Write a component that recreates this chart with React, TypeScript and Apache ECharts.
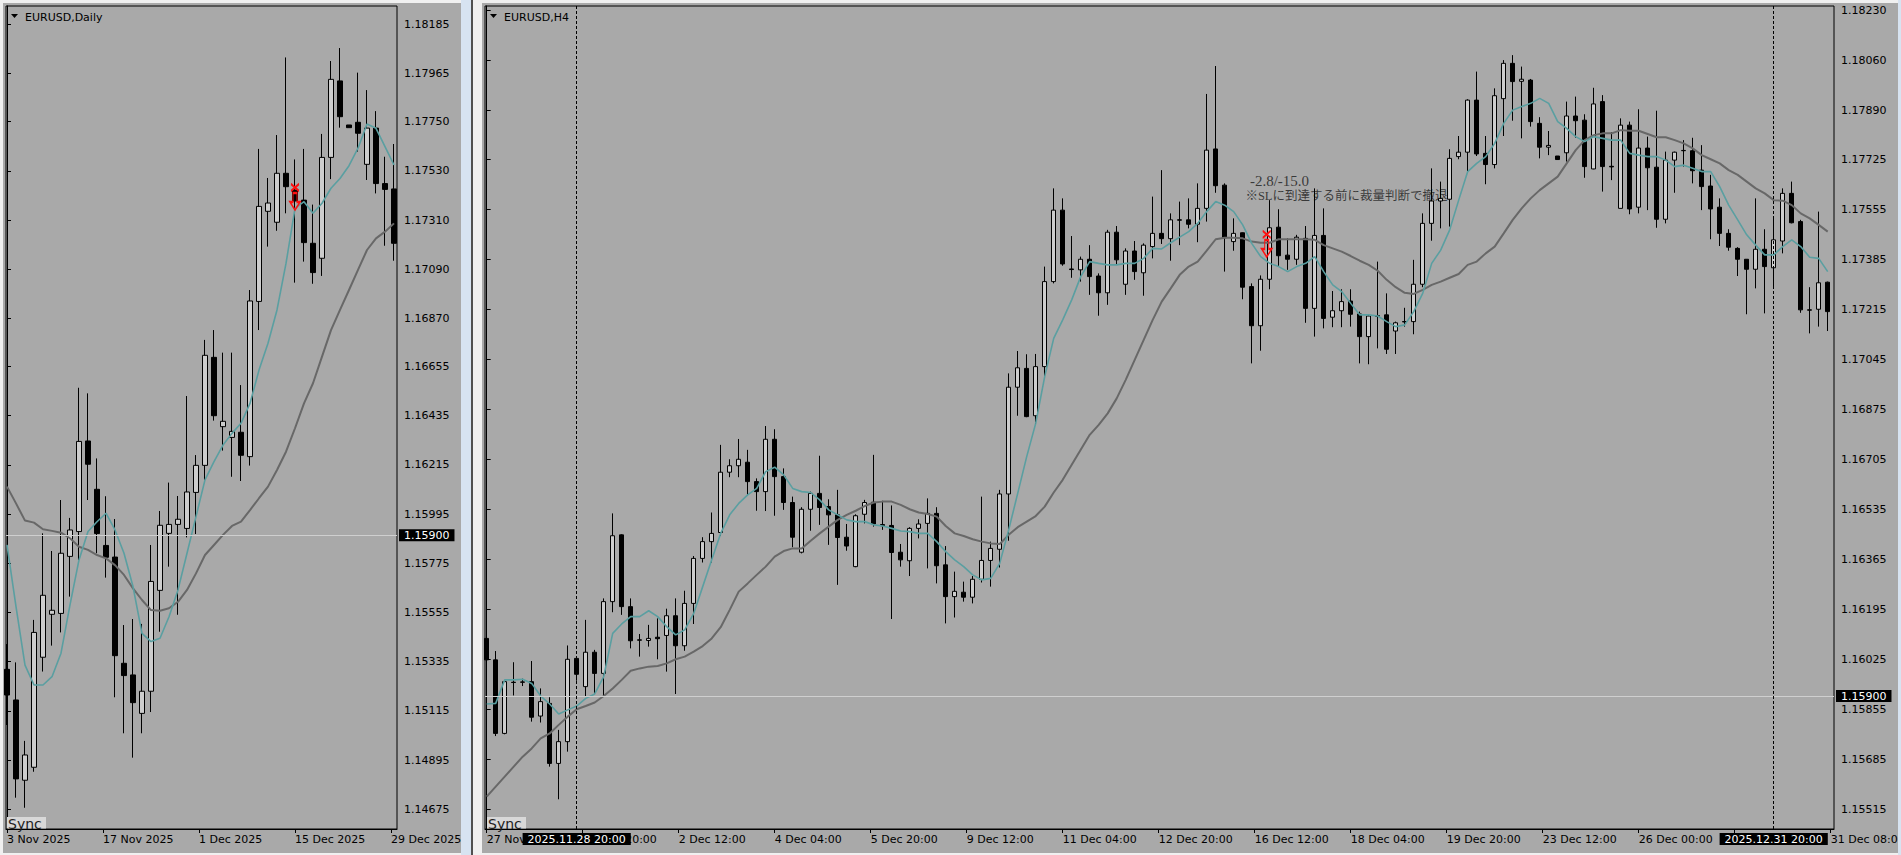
import React, { useEffect, useRef } from "react";
import * as echarts from "echarts";

// ---------- DATA ----------
// Daily candles, rows of [open, high, low, close]
const dailyCandles: number[][] = [
  [1.15301, 1.15414, 1.15052, 1.15186], [1.15164, 1.15332, 1.14727, 1.14811], [1.14805, 1.14981, 1.14682, 1.14918],
  [1.14863, 1.15522, 1.14843, 1.15466], [1.15355, 1.15909, 1.15291, 1.15632], [1.15547, 1.15830, 1.15407, 1.15565],
  [1.15551, 1.16058, 1.15466, 1.15820], [1.15806, 1.15978, 1.15626, 1.15924], [1.15917, 1.16560, 1.15790, 1.16320],
  [1.16322, 1.16535, 1.16058, 1.16218], [1.16106, 1.16244, 1.15820, 1.15908], [1.15855, 1.16075, 1.15711, 1.15802],
  [1.15803, 1.15973, 1.15176, 1.15362], [1.15328, 1.15499, 1.15015, 1.15273], [1.15276, 1.15526, 1.14906, 1.15152],
  [1.15104, 1.15504, 1.15015, 1.15203], [1.15203, 1.15857, 1.15110, 1.15694], [1.15654, 1.16009, 1.15469, 1.15945],
  [1.15909, 1.16136, 1.15760, 1.15949], [1.15949, 1.16076, 1.15545, 1.15972], [1.15931, 1.16523, 1.15891, 1.16094],
  [1.16092, 1.16259, 1.15906, 1.16213], [1.16213, 1.16774, 1.16148, 1.16705], [1.16696, 1.16818, 1.16413, 1.16435],
  [1.16386, 1.16717, 1.16279, 1.16410], [1.16338, 1.16717, 1.16162, 1.16365], [1.16361, 1.16572, 1.16143, 1.16258],
  [1.16252, 1.16997, 1.16212, 1.16948], [1.16946, 1.17628, 1.16818, 1.17371], [1.17349, 1.17498, 1.17191, 1.17386],
  [1.17300, 1.17690, 1.17262, 1.17519], [1.17519, 1.18037, 1.17340, 1.17459], [1.17444, 1.17581, 1.17030, 1.17395],
  [1.17399, 1.17628, 1.17124, 1.17209], [1.17206, 1.17379, 1.17025, 1.17075], [1.17139, 1.17695, 1.17060, 1.17590],
  [1.17590, 1.18021, 1.17493, 1.17939], [1.17932, 1.18079, 1.17723, 1.17772], [1.17735, 1.17735, 1.17723, 1.17723],
  [1.17747, 1.17969, 1.17616, 1.17698], [1.17559, 1.17891, 1.17489, 1.17721], [1.17721, 1.17797, 1.17429, 1.17473],
  [1.17473, 1.17593, 1.17195, 1.17447], [1.17449, 1.17650, 1.17128, 1.17206],
];

const dailyFastMA: number[] = [
  1.15857, 1.15581, 1.15320, 1.15231, 1.15231, 1.15268, 1.15373, 1.15589, 1.15790, 1.15917,
  1.15961, 1.15999, 1.15924, 1.15820, 1.15671, 1.15462, 1.15425, 1.15440, 1.15536, 1.15656,
  1.15820, 1.15984, 1.16148, 1.16230, 1.16304, 1.16356, 1.16401, 1.16490, 1.16639, 1.16759,
  1.16908, 1.17116, 1.17362, 1.17392, 1.17340, 1.17385, 1.17452, 1.17496, 1.17553, 1.17631,
  1.17739, 1.17720, 1.17638, 1.17556,
];

const dailySlowMA: number[] = [
  1.16118, 1.16043, 1.15966, 1.15957, 1.15927, 1.15920, 1.15912, 1.15887, 1.15849, 1.15835,
  1.15812, 1.15797, 1.15767, 1.15723, 1.15663, 1.15611, 1.15566, 1.15563, 1.15574, 1.15603,
  1.15656, 1.15730, 1.15812, 1.15857, 1.15902, 1.15942, 1.15961, 1.16013, 1.16066, 1.16118,
  1.16192, 1.16274, 1.16379, 1.16490, 1.16580, 1.16699, 1.16818, 1.16908, 1.16997, 1.17087,
  1.17176, 1.17228, 1.17258, 1.17295,
];

// H4 candles, rows of [open, high, low, close]
const h4Candles: number[][] = [
  [1.16096, 1.16134, 1.15998, 1.16023], [1.16023, 1.16053, 1.15764, 1.15773], [1.15773, 1.15952, 1.15770, 1.15949],
  [1.15947, 1.16015, 1.15902, 1.15946], [1.15948, 1.15959, 1.15934, 1.15947], [1.15949, 1.16019, 1.15813, 1.15828],
  [1.15832, 1.15926, 1.15810, 1.15881], [1.15875, 1.15896, 1.15660, 1.15671], [1.15671, 1.15785, 1.15549, 1.15745],
  [1.15745, 1.16072, 1.15711, 1.16025], [1.16028, 1.16032, 1.15952, 1.15974], [1.15932, 1.16159, 1.15900, 1.16049],
  [1.16049, 1.16057, 1.15907, 1.15977], [1.15977, 1.16232, 1.15900, 1.16221], [1.16221, 1.16521, 1.16185, 1.16445],
  [1.16448, 1.16450, 1.16176, 1.16204], [1.16204, 1.16232, 1.16062, 1.16088], [1.16091, 1.16111, 1.16034, 1.16090],
  [1.16089, 1.16142, 1.16068, 1.16096], [1.16100, 1.16164, 1.16025, 1.16095], [1.16106, 1.16197, 1.15983, 1.16173],
  [1.16173, 1.16232, 1.15907, 1.16071], [1.16071, 1.16258, 1.16054, 1.16215], [1.16215, 1.16376, 1.16145, 1.16368],
  [1.16368, 1.16440, 1.16354, 1.16425], [1.16425, 1.16524, 1.16354, 1.16453], [1.16456, 1.16754, 1.16444, 1.16661],
  [1.16661, 1.16705, 1.16644, 1.16683], [1.16683, 1.16774, 1.16644, 1.16705], [1.16695, 1.16737, 1.16584, 1.16629],
  [1.16629, 1.16640, 1.16530, 1.16595], [1.16595, 1.16818, 1.16529, 1.16773], [1.16773, 1.16807, 1.16513, 1.16646],
  [1.16646, 1.16674, 1.16533, 1.16558], [1.16558, 1.16578, 1.16406, 1.16440], [1.16389, 1.16542, 1.16385, 1.16535],
  [1.16535, 1.16595, 1.16462, 1.16589], [1.16589, 1.16717, 1.16482, 1.16541], [1.16544, 1.16569, 1.16414, 1.16516],
  [1.16516, 1.16601, 1.16278, 1.16439], [1.16440, 1.16485, 1.16394, 1.16410], [1.16340, 1.16518, 1.16338, 1.16513],
  [1.16518, 1.16567, 1.16487, 1.16558], [1.16559, 1.16720, 1.16476, 1.16485], [1.16483, 1.16564, 1.16465, 1.16479],
  [1.16480, 1.16548, 1.16162, 1.16388], [1.16389, 1.16417, 1.16340, 1.16363], [1.16360, 1.16474, 1.16308, 1.16470],
  [1.16470, 1.16501, 1.16436, 1.16485], [1.16487, 1.16572, 1.16334, 1.16521], [1.16521, 1.16542, 1.16283, 1.16343],
  [1.16346, 1.16410, 1.16147, 1.16238], [1.16238, 1.16323, 1.16167, 1.16256], [1.16253, 1.16289, 1.16221, 1.16236],
  [1.16236, 1.16308, 1.16215, 1.16297], [1.16297, 1.16578, 1.16286, 1.16361], [1.16361, 1.16425, 1.16272, 1.16402],
  [1.16399, 1.16601, 1.16337, 1.16587], [1.16587, 1.16997, 1.16428, 1.16950], [1.16950, 1.17073, 1.16853, 1.17016],
  [1.17014, 1.17062, 1.16848, 1.16850], [1.16853, 1.17063, 1.16822, 1.17020], [1.17020, 1.17360, 1.16986, 1.17309],
  [1.17309, 1.17626, 1.17303, 1.17552], [1.17552, 1.17592, 1.17363, 1.17369], [1.17352, 1.17464, 1.17322, 1.17350],
  [1.17349, 1.17394, 1.17309, 1.17385], [1.17385, 1.17433, 1.17264, 1.17326], [1.17328, 1.17337, 1.17193, 1.17271],
  [1.17271, 1.17485, 1.17230, 1.17477], [1.17477, 1.17498, 1.17366, 1.17383], [1.17300, 1.17422, 1.17264, 1.17413],
  [1.17413, 1.17447, 1.17315, 1.17343], [1.17339, 1.17439, 1.17261, 1.17433], [1.17428, 1.17598, 1.17388, 1.17473],
  [1.17473, 1.17688, 1.17437, 1.17455], [1.17455, 1.17541, 1.17380, 1.17519], [1.17519, 1.17581, 1.17433, 1.17518],
  [1.17519, 1.17592, 1.17490, 1.17504], [1.17504, 1.17643, 1.17443, 1.17558], [1.17558, 1.17947, 1.17513, 1.17756],
  [1.17760, 1.18042, 1.17611, 1.17635], [1.17637, 1.17643, 1.17343, 1.17458], [1.17445, 1.17524, 1.17414, 1.17473],
  [1.17475, 1.17476, 1.17249, 1.17290], [1.17292, 1.17303, 1.17031, 1.17159], [1.17159, 1.17330, 1.17074, 1.17317],
  [1.17317, 1.17586, 1.17283, 1.17492], [1.17494, 1.17555, 1.17360, 1.17397], [1.17399, 1.17456, 1.17349, 1.17385],
  [1.17385, 1.17468, 1.17366, 1.17460], [1.17456, 1.17498, 1.17169, 1.17218], [1.17218, 1.17626, 1.17122, 1.17466],
  [1.17466, 1.17558, 1.17150, 1.17184], [1.17188, 1.17277, 1.17154, 1.17210], [1.17210, 1.17283, 1.17154, 1.17241],
  [1.17243, 1.17283, 1.17156, 1.17198], [1.17199, 1.17207, 1.17031, 1.17122], [1.17122, 1.17195, 1.17028, 1.17192],
  [1.17193, 1.17377, 1.17082, 1.17191], [1.17196, 1.17269, 1.17063, 1.17079], [1.17141, 1.17173, 1.17063, 1.17169],
  [1.17173, 1.17220, 1.17156, 1.17172], [1.17173, 1.17383, 1.17130, 1.17300], [1.17300, 1.17541, 1.17290, 1.17507],
  [1.17507, 1.17694, 1.17448, 1.17583], [1.17583, 1.17649, 1.17490, 1.17592], [1.17589, 1.17759, 1.17496, 1.17728],
  [1.17734, 1.17804, 1.17725, 1.17749], [1.17749, 1.17929, 1.17683, 1.17926], [1.17926, 1.18023, 1.17736, 1.17743],
  [1.17745, 1.17804, 1.17640, 1.17707], [1.17707, 1.17966, 1.17694, 1.17941], [1.17931, 1.18062, 1.17804, 1.18051],
  [1.18051, 1.18079, 1.17856, 1.17989], [1.17990, 1.18040, 1.17796, 1.17997], [1.17994, 1.17998, 1.17836, 1.17853],
  [1.17847, 1.17868, 1.17728, 1.17766], [1.17766, 1.17821, 1.17739, 1.17772], [1.17736, 1.17736, 1.17724, 1.17724],
  [1.17747, 1.17921, 1.17717, 1.17872], [1.17872, 1.17938, 1.17798, 1.17856], [1.17858, 1.17878, 1.17662, 1.17700],
  [1.17692, 1.17968, 1.17691, 1.17913], [1.17921, 1.17943, 1.17615, 1.17700], [1.17701, 1.17817, 1.17654, 1.17699],
  [1.17558, 1.17864, 1.17558, 1.17841], [1.17841, 1.17853, 1.17538, 1.17556], [1.17562, 1.17895, 1.17541, 1.17763],
  [1.17763, 1.17802, 1.17552, 1.17696], [1.17698, 1.17890, 1.17492, 1.17521], [1.17521, 1.17751, 1.17507, 1.17722],
  [1.17722, 1.17751, 1.17611, 1.17749], [1.17754, 1.17790, 1.17700, 1.17755], [1.17754, 1.17798, 1.17643, 1.17686],
  [1.17688, 1.17773, 1.17552, 1.17632], [1.17634, 1.17672, 1.17453, 1.17556], [1.17562, 1.17592, 1.17430, 1.17473],
  [1.17473, 1.17487, 1.17414, 1.17426], [1.17422, 1.17426, 1.17328, 1.17385], [1.17385, 1.17385, 1.17198, 1.17351],
  [1.17351, 1.17592, 1.17286, 1.17419], [1.17419, 1.17487, 1.17201, 1.17360], [1.17356, 1.17524, 1.17294, 1.17451],
  [1.17447, 1.17626, 1.17405, 1.17609], [1.17609, 1.17649, 1.17507, 1.17509], [1.17513, 1.17519, 1.17203, 1.17213],
  [1.17213, 1.17290, 1.17133, 1.17212], [1.17215, 1.17547, 1.17156, 1.17305], [1.17307, 1.17309, 1.17141, 1.17207],
];

const h4FastMA: number[] = [
  1.15873, 1.15875, 1.15955, 1.15955, 1.15957, 1.15943, 1.15900, 1.15873, 1.15839, 1.15853,
  1.15866, 1.15892, 1.15907, 1.15966, 1.16113, 1.16145, 1.16170, 1.16170, 1.16190, 1.16170,
  1.16136, 1.16108, 1.16125, 1.16181, 1.16272, 1.16363, 1.16453, 1.16516, 1.16555, 1.16584,
  1.16606, 1.16663, 1.16678, 1.16652, 1.16606, 1.16595, 1.16592, 1.16567, 1.16533, 1.16516,
  1.16499, 1.16493, 1.16493, 1.16482, 1.16478, 1.16470, 1.16461, 1.16459, 1.16453, 1.16453,
  1.16425, 1.16391, 1.16363, 1.16340, 1.16312, 1.16295, 1.16300, 1.16351, 1.16465, 1.16589,
  1.16714, 1.16827, 1.16986, 1.17116, 1.17179, 1.17247, 1.17326, 1.17377, 1.17371, 1.17366,
  1.17366, 1.17371, 1.17371, 1.17388, 1.17422, 1.17420, 1.17441, 1.17460, 1.17479, 1.17507,
  1.17547, 1.17581, 1.17569, 1.17547, 1.17502, 1.17439, 1.17394, 1.17371, 1.17360, 1.17343,
  1.17360, 1.17371, 1.17394, 1.17343, 1.17298, 1.17275, 1.17235, 1.17196, 1.17196, 1.17192,
  1.17173, 1.17156, 1.17162, 1.17207, 1.17269, 1.17371, 1.17416, 1.17485, 1.17586, 1.17683,
  1.17711, 1.17734, 1.17779, 1.17847, 1.17892, 1.17904, 1.17915, 1.17932, 1.17915, 1.17853,
  1.17830, 1.17802, 1.17785, 1.17802, 1.17796, 1.17790, 1.17790, 1.17745, 1.17739, 1.17734,
  1.17734, 1.17722, 1.17700, 1.17705, 1.17694, 1.17683, 1.17683, 1.17632, 1.17569, 1.17519,
  1.17468, 1.17433, 1.17400, 1.17400, 1.17428, 1.17451, 1.17428, 1.17392, 1.17388, 1.17343,
];

const h4SlowMA: number[] = [
  1.15558, 1.15592, 1.15626, 1.15660, 1.15694, 1.15722, 1.15756, 1.15773, 1.15802, 1.15830,
  1.15855, 1.15866, 1.15878, 1.15900, 1.15926, 1.15955, 1.15986, 1.15994, 1.16000, 1.16002,
  1.16011, 1.16025, 1.16034, 1.16051, 1.16070, 1.16096, 1.16134, 1.16193, 1.16255, 1.16283,
  1.16312, 1.16340, 1.16374, 1.16393, 1.16402, 1.16402, 1.16428, 1.16453, 1.16476, 1.16499,
  1.16516, 1.16530, 1.16546, 1.16558, 1.16561, 1.16561, 1.16550, 1.16535, 1.16524, 1.16519,
  1.16510, 1.16478, 1.16453, 1.16444, 1.16433, 1.16425, 1.16419, 1.16417, 1.16448, 1.16474,
  1.16493, 1.16512, 1.16544, 1.16592, 1.16635, 1.16686, 1.16737, 1.16788, 1.16822, 1.16861,
  1.16912, 1.16975, 1.17043, 1.17111, 1.17179, 1.17241, 1.17286, 1.17332, 1.17360, 1.17377,
  1.17414, 1.17453, 1.17458, 1.17458, 1.17456, 1.17445, 1.17441, 1.17441, 1.17453, 1.17453,
  1.17453, 1.17453, 1.17451, 1.17433, 1.17422, 1.17411, 1.17396, 1.17380, 1.17366, 1.17346,
  1.17315, 1.17290, 1.17271, 1.17267, 1.17281, 1.17298, 1.17309, 1.17322, 1.17335, 1.17366,
  1.17377, 1.17405, 1.17428, 1.17473, 1.17519, 1.17558, 1.17592, 1.17620, 1.17643, 1.17666,
  1.17711, 1.17756, 1.17790, 1.17807, 1.17813, 1.17813, 1.17824, 1.17822, 1.17822, 1.17811,
  1.17800, 1.17800, 1.17790, 1.17779, 1.17762, 1.17739, 1.17725, 1.17711, 1.17688, 1.17672,
  1.17649, 1.17626, 1.17609, 1.17586, 1.17584, 1.17569, 1.17541, 1.17524, 1.17502, 1.17479,
];

const dailyTimeLabels = ["3 Nov 2025", "17 Nov 2025", "1 Dec 2025", "15 Dec 2025", "29 Dec 2025"];
const h4TimeLabels = [
  "27 Nov 04:00", "28 Nov 20:00", "2 Dec 12:00", "4 Dec 04:00", "5 Dec 20:00", "9 Dec 12:00",
  "11 Dec 04:00", "12 Dec 20:00", "16 Dec 12:00", "18 Dec 04:00", "19 Dec 20:00", "23 Dec 12:00",
  "26 Dec 00:00", "29 Dec 16:00", "31 Dec 08:00",
];
const dailyPriceTicks = [
  1.18185, 1.17965, 1.1775, 1.1753, 1.1731, 1.1709, 1.1687, 1.16655, 1.16435,
  1.16215, 1.15995, 1.15775, 1.15555, 1.15335, 1.15115, 1.14895, 1.14675,
];
const h4PriceTicks = [
  1.1823, 1.1806, 1.1789, 1.17725, 1.17555, 1.17385, 1.17215, 1.17045, 1.16875,
  1.16705, 1.16535, 1.16365, 1.16195, 1.16025, 1.15855, 1.15685, 1.15515,
];
const referencePrice = 1.159;
const h4VerticalLines = [
  { bar: 10, label: "2025.11.28 20:00" },
  { bar: 143, label: "2025.12.31 20:00" },
];
const dailyTrade = { bar: 32, price: 1.17413 };
const h4Trade = { bar: 87, price: 1.17437 };
const h4Notes = [
  { bar: 84.8, price: 1.17651, text: "-2.8/-15.0", size: 15 },
  { bar: 84.3, price: 1.17601, text: "※SLに到達する前に裁量判断で撤退", size: 12.5 },
];

// ---------- STYLE ----------
const BG = "#a9a9a9";
const BULL = "#cdcdcd";
const FAST = "#5a9fa1";
const SLOW = "#686868";
const PAGE = "#f0f0f0";
const STRIP = "#d7e3f1";
const FONT = "'DejaVu Sans', Verdana, sans-serif";
const SERIF = "'Liberation Serif', 'Noto Sans CJK JP', serif";
const LABEL_STEP = 32 / 3; // time-scale labels every 96 px = 10.67 bars of 9 px
const ARROW = "path://M1,0L9,7M9,0L1,7M3,9L7,9L7,18L10,18L5,26L0,18L3,18Z";

const toCandle = (c: number[], i: number) => [i, c[0], c[3], c[2], c[1]];
const toLine = (v: number[]) => v.map((y, i) => [i, y]);

function xAxisFor(gridIndex: number, min: number, max: number, labels: string[]) {
  const pos = labels.map((_, i) => i * LABEL_STEP);
  return {
    type: "value",
    gridIndex,
    min,
    max,
    splitLine: { show: false },
    axisLine: { show: true, lineStyle: { color: "#000", width: 1 } },
    axisTick: { show: true, length: 4, customValues: pos, lineStyle: { color: "#000" } },
    axisLabel: {
      customValues: pos,
      formatter: (v: number) => labels[Math.round(v / LABEL_STEP)] ?? "",
      align: "left",
      margin: 5,
      color: "#000",
      fontFamily: FONT,
      fontSize: 11,
    },
  };
}

function yAxisFor(gridIndex: number, min: number, max: number, ticks: number[]) {
  return {
    type: "value",
    gridIndex,
    position: "right",
    min,
    max,
    splitLine: { show: false },
    axisLine: { show: true, lineStyle: { color: "#000", width: 1 } },
    axisTick: { show: true, length: 4, customValues: ticks, lineStyle: { color: "#000" } },
    axisLabel: {
      customValues: ticks,
      formatter: (v: number) => v.toFixed(5),
      margin: 7,
      color: "#000",
      fontFamily: FONT,
      fontSize: 11,
    },
  };
}

const priceTag = {
  show: true,
  position: "end",
  distance: 2,
  formatter: referencePrice.toFixed(5),
  color: "#fff",
  backgroundColor: "#000",
  padding: [1, 5, 0, 5],
  fontFamily: FONT,
  fontSize: 11,
};

function candleSeries(xi: number, data: number[][], markData: any[]) {
  return {
    type: "candlestick",
    xAxisIndex: xi,
    yAxisIndex: xi,
    data: data.map(toCandle),
    encode: { x: 0, y: [1, 2, 3, 4] },
    barWidth: 5,
    z: 3,
    itemStyle: { color: BULL, color0: "#000", borderColor: "#000", borderColor0: "#000", borderWidth: 1 },
    markLine: {
      silent: true,
      precision: 5,
      symbol: ["none", "none"],
      lineStyle: { color: "#cfcfcf", width: 1, type: "solid" },
      data: markData,
    },
  };
}

function maSeries(xi: number, values: number[], color: string, width: number) {
  return {
    type: "line",
    xAxisIndex: xi,
    yAxisIndex: xi,
    data: toLine(values),
    showSymbol: false,
    symbol: "none",
    silent: true,
    z: 4,
    lineStyle: { color, width },
  };
}

function tradeSeries(xi: number, t: { bar: number; price: number }, offsetX: number) {
  return {
    type: "scatter",
    xAxisIndex: xi,
    yAxisIndex: xi,
    data: [[t.bar, t.price]],
    symbol: ARROW,
    symbolSize: [10, 26],
    symbolOffset: [offsetX, 0],
    silent: true,
    z: 6,
    itemStyle: { color: "rgba(0,0,0,0)", borderColor: "#ff1010", borderWidth: 1.5, opacity: 1 },
  };
}

const option: any = {
  animation: false,
  backgroundColor: "transparent",
  textStyle: { fontFamily: FONT },
  grid: [
    { left: 6, top: 6, width: 391, height: 823, show: true, backgroundColor: BG, borderColor: "#000", borderWidth: 1, outerBoundsMode: "none", containLabel: false },
    { left: 485, top: 6, width: 1349, height: 823, show: true, backgroundColor: BG, borderColor: "#000", borderWidth: 1, outerBoundsMode: "none", containLabel: false },
  ],
  xAxis: [
    xAxisFor(0, -1 / 9, 390 / 9, dailyTimeLabels),
    xAxisFor(1, -1.7 / 9, 1347.3 / 9, h4TimeLabels),
  ],
  yAxis: [
    yAxisFor(0, 1.14587, 1.18267, dailyPriceTicks),
    yAxisFor(1, 1.15448, 1.18246, h4PriceTicks),
  ],
  series: [
    candleSeries(0, dailyCandles, [{ yAxis: referencePrice, label: priceTag }]),
    maSeries(0, dailySlowMA, SLOW, 2),
    maSeries(0, dailyFastMA, FAST, 1.6),
    tradeSeries(0, dailyTrade, 0),
    candleSeries(1, h4Candles, [
      { yAxis: referencePrice, label: priceTag },
      ...h4VerticalLines.map((v) => ({
        xAxis: v.bar,
        lineStyle: { color: "#000", width: 1, type: [3, 2] },
        label: {
          show: true,
          position: "start",
          distance: 4,
          formatter: v.label,
          color: "#fff",
          backgroundColor: "#000",
          padding: [1, 5, 0, 5],
          fontFamily: FONT,
          fontSize: 11,
        },
      })),
    ]),
    maSeries(1, h4SlowMA, SLOW, 2),
    maSeries(1, h4FastMA, FAST, 1.6),
    tradeSeries(1, h4Trade, -3),
    {
      type: "scatter",
      xAxisIndex: 1,
      yAxisIndex: 1,
      data: h4Notes.map((n) => ({
        value: [n.bar, n.price],
        label: { fontSize: n.size },
      })),
      symbolSize: 0,
      silent: true,
      z: 1,
      label: {
        show: true,
        position: [0, 0],
        align: "left",
        verticalAlign: "middle",
        formatter: (p: any) => h4Notes[p.dataIndex].text,
        color: "#1a1a1a",
        fontFamily: SERIF,
        fontSize: 13,
      },
    },
  ],
  graphic: [
    { type: "polygon", z: 20, shape: { points: [[11, 14], [18, 14], [14.5, 18]] }, style: { fill: "#000" } },
    { type: "text", z: 20, x: 25, y: 17, style: { text: "EURUSD,Daily", fill: "#000", fontFamily: FONT, fontSize: 11, verticalAlign: "middle" } },
    { type: "polygon", z: 20, shape: { points: [[490, 14], [497, 14], [493.5, 18]] }, style: { fill: "#000" } },
    { type: "text", z: 20, x: 504, y: 17, style: { text: "EURUSD,H4", fill: "#000", fontFamily: FONT, fontSize: 11, verticalAlign: "middle" } },
    { type: "rect", z: 20, shape: { x: 7, y: 817, width: 39, height: 11.5 }, style: { fill: "#d8d8d8" } },
    { type: "text", z: 21, x: 8, y: 823.5, style: { text: "Sync", fill: "#222", fontFamily: FONT, fontSize: 14, verticalAlign: "middle" } },
    { type: "rect", z: 20, shape: { x: 487, y: 817, width: 39, height: 11.5 }, style: { fill: "#d8d8d8" } },
    { type: "text", z: 21, x: 488, y: 823.5, style: { text: "Sync", fill: "#222", fontFamily: FONT, fontSize: 14, verticalAlign: "middle" } },
    { type: "rect", z: 100, shape: { x: 1898, y: 0, width: 3, height: 855 }, style: { fill: STRIP } },
  ],
};

export default function App() {
  const ref = useRef<HTMLDivElement>(null);
  useEffect(() => {
    if (!ref.current) return;
    const chart = echarts.init(ref.current, undefined, { renderer: "svg" });
    chart.setOption(option);
    return () => chart.dispose();
  }, []);
  const abs = (l: number, t: number, w: number, h: number, bg: string): React.CSSProperties => ({
    position: "absolute", left: l, top: t, width: w, height: h, background: bg,
  });
  return (
    <div style={{ position: "absolute", left: 0, top: 0, width: 1901, height: 855, background: PAGE, overflow: "hidden" }}>
      <div style={abs(3, 3, 458, 850, BG)} />
      <div style={abs(461, 0, 10, 855, STRIP)} />
      <div style={abs(471, 0, 2, 855, "#505050")} />
      <div style={abs(482, 3, 1416, 850, BG)} />
      <div style={abs(1898, 0, 3, 855, STRIP)} />
      <div ref={ref} style={{ position: "absolute", left: 0, top: 0, width: 1901, height: 855 }} />
    </div>
  );
}
